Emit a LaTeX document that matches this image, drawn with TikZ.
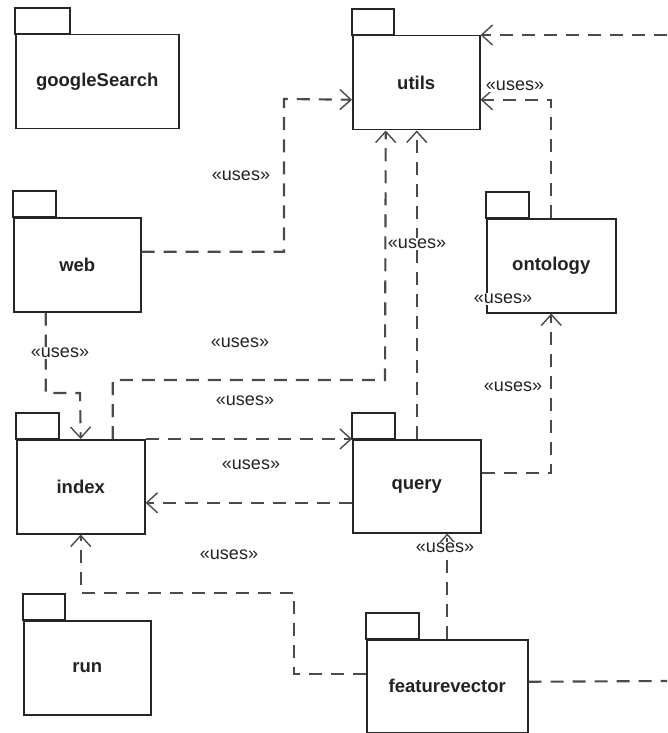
\documentclass[tikz,border=0pt]{standalone}
\usepackage{fontspec}
\setmainfont{Liberation Sans}
\usetikzlibrary{arrows.meta}
\definecolor{boxline}{HTML}{262626}
\definecolor{depline}{HTML}{4A4A4A}
\definecolor{txt}{HTML}{222222}
\begin{document}
\begin{tikzpicture}[x=1pt,y=-1pt,
  pkg/.style={draw=boxline, line width=1.5pt, minimum width=127pt, minimum height=94pt,
    inner sep=0pt, anchor=north west, text=txt, font=\fontsize{18.5}{20}\selectfont\bfseries},
  tabline/.style={draw=boxline, line width=1.5pt},
  dep/.style={draw=depline, line width=2.1pt, dash pattern=on 13pt off 9pt,
    -{Straight Barb[length=11pt,width=20pt,line width=1.4pt]}},
  link/.style={draw=depline, line width=2.1pt, dash pattern=on 13pt off 9pt},
  uses/.style={fill=white, inner sep=1pt, text=txt, font=\fontsize{18}{20}\selectfont},
]
\useasboundingbox (0,0) rectangle (667,733);

% package bodies
\node[pkg, minimum width=163pt] (googleSearch) at (15,34) {googleSearch};
\node[pkg] (utils) at (352,35) {utils};
\node[pkg] (web) at (13,217) {web};
\node[pkg, minimum width=129pt] (ontology) at (486,218) {ontology};
\node[pkg, minimum width=128pt] (index) at (16,439) {index};
\node[pkg, minimum width=128pt, minimum height=93pt] (query) at (352,439) {query};
\node[pkg] (run) at (23,620) {run};
\node[pkg, minimum width=161pt, minimum height=93pt] (featurevector) at (366,639) {featurevector};

% package tabs
\newcommand\pkgtab[2]{\draw[tabline] (#1.north west) rectangle ([xshift=#2, yshift=26pt]#1.north west);}
\pkgtab{googleSearch}{55pt}
\pkgtab{utils}{42pt}
\pkgtab{web}{43pt}
\pkgtab{ontology}{43pt}
\pkgtab{index}{43pt}
\pkgtab{query}{43pt}
\pkgtab{run}{42pt}
\pkgtab{featurevector}{53pt}

% free ends at the right border
\coordinate (edgeTop) at (667,35);
\coordinate (edgeLow) at (667,681);

% dependencies
\draw[dep] ([yshift=13pt]web.east) -| (284,99) -- ([yshift=-17pt]utils.west);
\draw[dep] ([xshift=-31.5pt]web.south) |- (80,393) -- (index.north);
\draw[dep] ([xshift=32pt]index.north) |- (385,380) -- ([xshift=-30.5pt]utils.south);
\draw[dep] (query.north) -- (query.north |- utils.south);
\draw[dep] (index.north east) -- (query.north west);
\draw[dep] ([yshift=-16.5pt]query.west) -- ([yshift=-16.5pt]query.west -| index.east);
\draw[dep] ([yshift=13.5pt]query.east) -| (ontology.south);
\draw[dep] (ontology.north) |- ([yshift=-17pt]utils.east);
\draw[dep] (featurevector.north) -- (featurevector.north |- query.south);
\draw[dep] ([yshift=12.5pt]featurevector.west) -| (294,593) -| (index.south);
\draw[dep] (edgeTop) -- (utils.north east);
\draw[link] ([yshift=4.5pt]featurevector.east) -- (edgeLow);

% stereotype labels
\node[uses] (u1) at (241,176) {«uses»};
\node[uses] (u2) at (60,353) {«uses»};
\node[uses] (u3) at (240,343) {«uses»};
\node[uses] (u4) at (245,401) {«uses»};
\node[uses] (u5) at (251,465) {«uses»};
\node[uses] (u6) at (229,555) {«uses»};
\node[uses] (u7) at (445,548) {«uses»};
\node[uses] (u8) at (513,387) {«uses»};
\node[uses] (u9) at (503,299) {«uses»};
\node[uses] (u10) at (417,244) {«uses»};
\node[uses] (u11) at (515,86) {«uses»};
\end{tikzpicture}
\end{document}
